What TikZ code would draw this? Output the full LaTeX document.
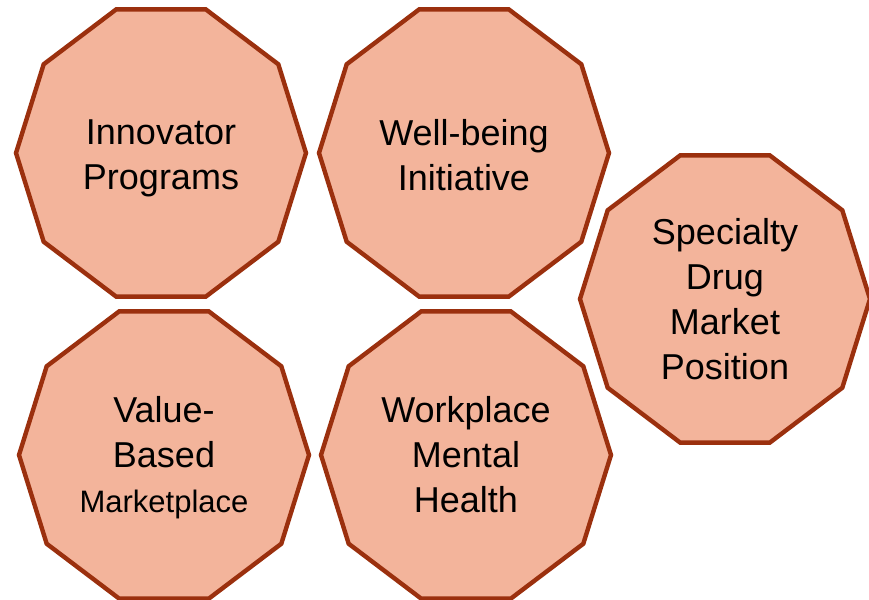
\documentclass[tikz,border=0pt]{standalone}
\usepackage{fontspec}
\setmainfont{Liberation Sans}
\usetikzlibrary{calc}
\definecolor{tilefill}{RGB}{243,180,155}
\definecolor{tileedge}{RGB}{155,48,14}

\tikzset{
  tile/.pic={
    \draw[line width=2.2pt,draw=tileedge,fill=tilefill,line join=miter]
      (0:145 and 144) \foreach \a in {36,72,...,324} {-- (\a:145 and 151)} -- cycle;
  },
  label/.style={align=center,font=\fontsize{18}{22.5}\selectfont,text=black}
}

\begin{document}
\begin{tikzpicture}[x=0.5pt,y=-0.5pt]
  \useasboundingbox (0,0) rectangle (869,600);
  % five decagon tiles, text centred in each
  \coordinate (c1) at (161,153); \coordinate (c2) at (464,153);
  \coordinate (c3) at (725,299); \coordinate (c4) at (164,455);
  \coordinate (c5) at (466,455);
  \foreach \i in {1,...,5} \pic at (c\i) {tile};
  \node[label] (innov) at ($(c1)+(0,5)$) {Innovator\\Programs};
  \node[label] (well) at ($(c2)+(0,2)$) {Well-being\\Initiative};
  \node[label] (spec) at (c3) {Specialty\\Drug\\Market\\Position};
  \node[label] (value) at ($(c4)+(0,3)$) {Value-\\Based\\[0pt]{\fontsize{15.5}{18}\selectfont Marketplace}};
  \node[label] (work) at (c5) {Workplace\\Mental\\Health};
\end{tikzpicture}
\end{document}
